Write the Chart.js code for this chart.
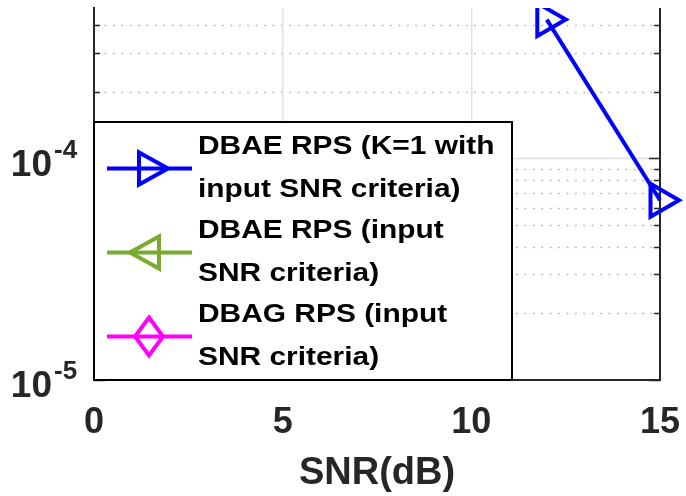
<!DOCTYPE html>
<html lang="en">
<head>
<meta charset="UTF-8">
<title>SNR chart</title>
<script src="https://cdn.jsdelivr.net/npm/chart.js"></script>
<style>
body { margin: 0; background: #fff; }
#snr-chart { display: block; }
</style>
</head>
<body>
<canvas id="snr-chart" width="686" height="496"></canvas>
<script>
// values
const snrBlue = [12, 15];
const berBlue = [4.23e-4, 6.47e-5];
const snrGreen = [];      // not visible in this view
const berGreen = [];
const snrMagenta = [];    // not visible in this view
const berMagenta = [];

const xTicks = [0, 5, 10, 15];
const xRange = [0, 15];
const yDecades = [1e-5, 1e-4];
const yRange = [1e-5, 4.77e-4];

const seriesNames = [
    ['DBAE RPS (K=1 with', 'input SNR criteria)'],
    ['DBAE RPS (input', 'SNR criteria)'],
    ['DBAG RPS (input', 'SNR criteria)']
];
const seriesColors = ['#0000ff', '#77ac30', '#ff00ff'];

const FONT = '"Liberation Sans", Arial, sans-serif';
const axisColor = '#262626';

function toPoints(xs, ys) {
    return xs.map((x, i) => ({ x: x, y: ys[i] }));
}

function yGridValues() {
    const out = [];
    yDecades.forEach(d => {
        for (let k = 1; k <= 9; k++) {
            const v = k * d;
            if (v <= yRange[1] * 1.0001) out.push({ v: v, major: k === 1 });
        }
    });
    return out;
}

// legend markers drawn by hand (MATLAB style)
function legendMarker(ctx, i, cx, cy) {
    ctx.beginPath();
    if (i === 0) {
        ctx.moveTo(cx - 10, cy - 16); ctx.lineTo(cx - 10, cy + 16); ctx.lineTo(cx + 19, cy);
    } else if (i === 1) {
        ctx.moveTo(cx + 10, cy - 16); ctx.lineTo(cx + 10, cy + 16); ctx.lineTo(cx - 19, cy);
    } else {
        ctx.moveTo(cx, cy - 19); ctx.lineTo(cx + 14, cy); ctx.lineTo(cx, cy + 19); ctx.lineTo(cx - 14, cy);
    }
    ctx.closePath();
    ctx.stroke();
}

const matlabAxes = {
    id: 'matlabAxes',
    beforeDraw(chart) {
        // horizontal grid: solid at decades, dotted at minor values
        const { ctx, chartArea: a, scales: { y } } = chart;
        ctx.save();
        yGridValues().forEach(g => {
            if (g.v === yRange[0]) return;
            const py = Math.round(y.getPixelForValue(g.v)) + 0.5;
            ctx.beginPath();
            if (g.major) {
                ctx.strokeStyle = '#dedede';
                ctx.setLineDash([]);
            } else {
                ctx.strokeStyle = '#bdbdbd';
                ctx.setLineDash([2, 6.4]);
            }
            ctx.lineWidth = 1.5;
            ctx.moveTo(a.left + 2, py);
            ctx.lineTo(a.right - 2, py);
            ctx.stroke();
        });
        ctx.restore();
    },
    beforeDatasetsDraw(chart) {
        const { ctx, chartArea: a, scales: { y } } = chart;
        ctx.save();
        // right axis line
        ctx.strokeStyle = axisColor;
        ctx.lineWidth = 2;
        ctx.beginPath();
        ctx.moveTo(a.right, a.top);
        ctx.lineTo(a.right, a.bottom + 1);
        ctx.stroke();

        // inward ticks on both sides
        ctx.lineWidth = 1.5;
        yGridValues().forEach(g => {
            const py = Math.round(y.getPixelForValue(g.v)) + 0.5;
            const len = g.major ? 11 : 6;
            ctx.beginPath();
            ctx.moveTo(a.left, py); ctx.lineTo(a.left + len, py);
            ctx.moveTo(a.right - len, py); ctx.lineTo(a.right, py);
            ctx.stroke();
        });
        ctx.restore();
    },
    afterDatasetsDraw(chart) {
        const { ctx, chartArea: a, scales: { y } } = chart;
        ctx.save();

        // y labels as 10^n
        ctx.fillStyle = axisColor;
        ctx.textBaseline = 'middle';
        yDecades.forEach(d => {
            const py = y.getPixelForValue(d);
            const exp = Math.round(Math.log10(d));
            ctx.font = 'bold 37px ' + FONT;
            ctx.textAlign = 'right';
            ctx.fillText('10', 52, py + 7);
            ctx.font = 'bold 26px ' + FONT;
            ctx.textAlign = 'left';
            ctx.fillText(String(exp), 54, py - 8);
        });

        // legend box
        const box = { l: a.left, t: 122, r: 512, b: a.bottom };
        ctx.fillStyle = '#fff';
        ctx.fillRect(box.l, box.t, box.r - box.l, box.b - box.t);
        ctx.strokeStyle = '#000';
        ctx.lineWidth = 2;
        ctx.strokeRect(box.l, box.t, box.r - box.l, box.b - box.t);

        ctx.lineJoin = 'miter';
        seriesNames.forEach((lines, i) => {
            const y1 = box.t + 25 + i * 84;
            const my = y1 + 21.5;
            const cx = box.l + 55;
            ctx.strokeStyle = seriesColors[i];
            ctx.lineWidth = 4;
            ctx.beginPath();
            ctx.moveTo(box.l + 13, my);
            ctx.lineTo(box.l + 98, my);
            ctx.stroke();
            legendMarker(ctx, i, cx, my);

            ctx.fillStyle = '#000';
            ctx.font = 'bold 26px ' + FONT;
            ctx.textAlign = 'left';
            ctx.textBaseline = 'middle';
            lines.forEach((t, j) => {
                ctx.save();
                ctx.translate(box.l + 104, y1 + j * 43);
                ctx.scale(1.15, 1);
                ctx.fillText(t, 0, 0);
                ctx.restore();
            });
        });
        ctx.restore();
    }
};

const lineStyle = (i, pointStyle, rotation) => ({
    borderColor: seriesColors[i],
    borderWidth: 4,
    pointStyle: pointStyle,
    rotation: rotation,
    pointRadius: 19,
    pointBorderWidth: 4,
    pointBorderColor: seriesColors[i],
    pointBackgroundColor: 'rgba(0,0,0,0)',
    fill: false,
    tension: 0,
    clip: { left: 30, top: 0, right: 30, bottom: 30 }
});

new Chart(document.getElementById('snr-chart'), {
    type: 'line',
    data: {
        datasets: [
            Object.assign({ label: seriesNames[0].join(' '), data: toPoints(snrBlue, berBlue) }, lineStyle(0, 'triangle', 90)),
            Object.assign({ label: seriesNames[1].join(' '), data: toPoints(snrGreen, berGreen) }, lineStyle(1, 'triangle', -90)),
            Object.assign({ label: seriesNames[2].join(' '), data: toPoints(snrMagenta, berMagenta) }, lineStyle(2, 'rectRot', 0))
        ]
    },
    options: {
        responsive: false,
        animation: false,
        devicePixelRatio: 1,
        layout: { autoPadding: false, padding: { top: 8, right: 26, left: 0, bottom: 0 } },
        plugins: {
            legend: { display: false },
            tooltip: { enabled: false }
        },
        scales: {
            x: {
                type: 'linear',
                min: xRange[0],
                max: xRange[1],
                afterBuildTicks: s => { s.ticks = xTicks.map(v => ({ value: v })); },
                afterFit: s => {
                    s.height = 116;
                    s.paddingLeft = 0; s.paddingRight = 0; s.paddingTop = 0; s.paddingBottom = 0;
                },
                ticks: {
                    color: axisColor,
                    font: { family: FONT, size: 36, weight: 'bold' },
                    padding: 21,
                    maxRotation: 0
                },
                grid: {
                    drawTicks: false,
                    lineWidth: 1.5,
                    color: c => (c.tick && c.tick.value > xRange[0] && c.tick.value < xRange[1]) ? '#e0e0e0' : 'rgba(0,0,0,0)'
                },
                border: { display: true, color: axisColor, width: 2 },
                title: {
                    display: true,
                    text: 'SNR(dB)',
                    color: axisColor,
                    font: { family: FONT, size: 38, weight: 'bold' },
                    padding: { top: 0, bottom: 0, y: 0 }
                }
            },
            y: {
                type: 'logarithmic',
                min: yRange[0],
                max: yRange[1],
                afterFit: s => {
                    s.width = 94;
                    s.paddingLeft = 0; s.paddingRight = 0; s.paddingTop = 0; s.paddingBottom = 0;
                },
                ticks: { display: false },
                grid: { display: false },
                border: { display: true, color: axisColor, width: 2 }
            }
        }
    },
    plugins: [matlabAxes]
});
</script>
</body>
</html>
